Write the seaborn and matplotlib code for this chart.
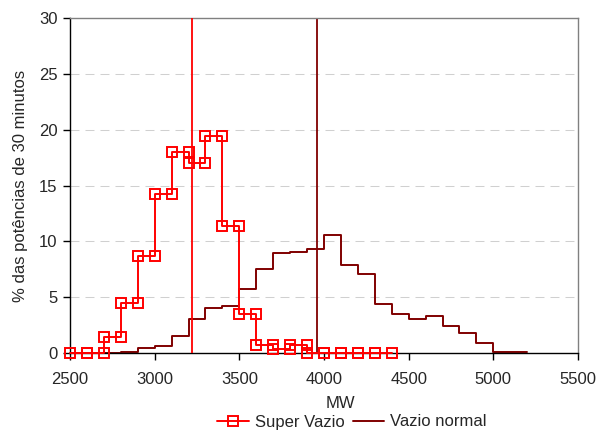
import numpy as np
import pandas as pd
import seaborn as sns
from matplotlib import pyplot as plt

# classes de potência (limite inferior, MW), largura 100 MW
super_bins = [2500, 2600, 2700, 2800, 2900, 3000, 3100, 3200, 3300, 3400, 3500,
              3600, 3700, 3800, 3900, 4000, 4100, 4200, 4300]
super_pct = [0, 0, 1.4, 4.5, 8.7, 14.2, 18.0, 17.0, 19.4, 11.4, 3.5,
             0.7, 0.4, 0.7, 0, 0, 0, 0, 0]

normal_bins = [2500, 2600, 2700, 2800, 2900, 3000, 3100, 3200, 3300, 3400, 3500,
               3600, 3700, 3800, 3900, 4000, 4100, 4200, 4300, 4400, 4500, 4600,
               4700, 4800, 4900, 5000, 5100]
normal_pct = [0, 0, 0, 0.12, 0.42, 0.63, 1.52, 3.04, 4.0, 4.24, 5.7,
              7.55, 9.0, 9.07, 9.34, 10.6, 7.88, 7.1, 4.36, 3.52, 3.04, 3.28,
              2.42, 1.76, 0.87, 0.12, 0.05]
bin_width = 100

media_super = 3220
media_normal = 3960


def step_frame(bins, vals):
    xs, ys = [], []
    for b, v in zip(bins, vals):
        xs += [b, b + bin_width]
        ys += [v, v]
    return pd.DataFrame({'MW': xs, 'pct': ys})


df_super = step_frame(super_bins, super_pct)
df_normal = step_frame(normal_bins, normal_pct)

sns.set_style('white')
plt.rcParams['font.family'] = ['Liberation Sans', 'DejaVu Sans']
plt.rcParams['font.size'] = 12

fig = plt.figure(figsize=(5.96, 4.32), dpi=100)
ax = fig.add_axes([70 / 596, 1 - 353 / 432, 508 / 596, 335 / 432])

for y in range(5, 30, 5):
    ax.axhline(y, color='#d0d0d0', lw=0.75, dashes=(8.6, 5.8), zorder=0)

sns.lineplot(data=df_normal, x='MW', y='pct', sort=False, estimator=None, color='#800000', lw=1.4,
             label='Vazio normal', ax=ax, zorder=2)
ax.axvline(media_normal, color='#800000', lw=1.3, zorder=2)
ax.axvline(media_super, color='#ff0000', lw=1.3, zorder=3)
sns.lineplot(data=df_super, x='MW', y='pct', sort=False, estimator=None, color='#ff0000', lw=1.4,
             marker='s', markersize=6.6, markerfacecolor='none', markeredgecolor='#ff0000',
             markeredgewidth=1.4, label='Super Vazio', ax=ax, zorder=4, clip_on=False)

ax.set_xlim(2500, 5500)
ax.set_ylim(0, 30)
ax.set_xticks(np.arange(2500, 5501, 500))
ax.set_yticks(np.arange(0, 31, 5))
ax.tick_params(axis='x', direction='out', length=5, width=1, pad=9, labelsize=12, color='black')
ax.tick_params(axis='y', direction='out', length=5, width=1, pad=4, labelsize=12, color='black')
ax.tick_params(bottom=True, left=True)

for s in ['left', 'bottom']:
    ax.spines[s].set_color('black')
    ax.spines[s].set_linewidth(1)
for s in ['top', 'right']:
    ax.spines[s].set_color('#808080')
    ax.spines[s].set_linewidth(1)

ax.set_xlabel('MW', fontsize=12)
ax.xaxis.set_label_coords(0.533, -0.128)
ax.set_ylabel('% das potências de 30 minutos', fontsize=12)
ax.yaxis.set_label_coords(-0.082, 0.5)

handles, labels = ax.get_legend_handles_labels()
order = [labels.index('Super Vazio'), labels.index('Vazio normal')]
ax.legend([handles[i] for i in order], [labels[i] for i in order], ncol=2,
          loc='center', bbox_to_anchor=(352 / 596, 1 - 422 / 432), bbox_transform=fig.transFigure,
          frameon=False, fontsize=12, handlelength=1.9, handletextpad=0.35,
          columnspacing=0.5, borderpad=0, borderaxespad=0)

plt.savefig('out.png', dpi=100)
